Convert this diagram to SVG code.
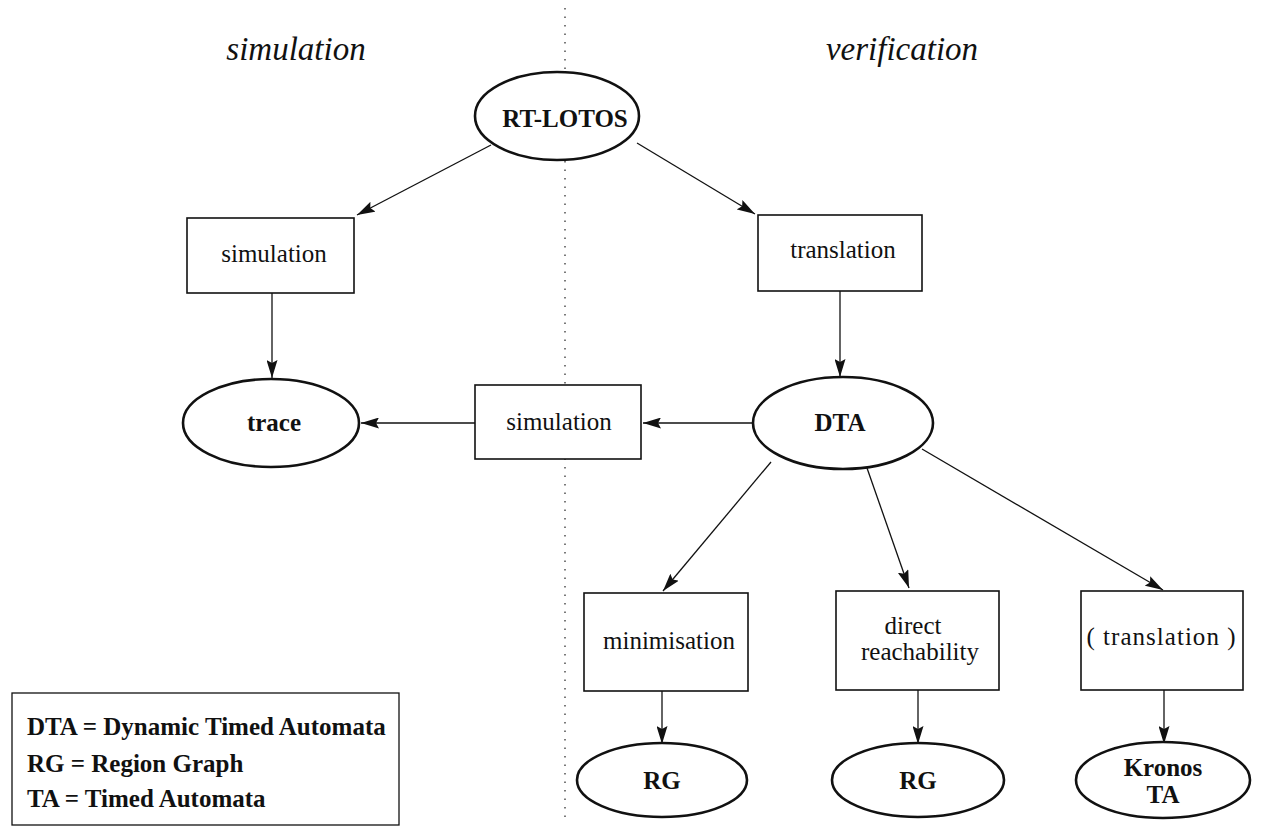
<svg xmlns="http://www.w3.org/2000/svg" width="1261" height="827" viewBox="0 0 1261 827">
  <style>
    .title { font-family: "Liberation Serif", "Times New Roman", serif; font-style: italic; font-size: 33px; fill: #111; text-anchor: middle; }
    .elabel { font-family: "Liberation Serif", "Times New Roman", serif; font-weight: bold; font-size: 25px; fill: #111; text-anchor: middle; }
    .blabel { font-family: "Liberation Serif", "Times New Roman", serif; font-size: 25px; fill: #111; text-anchor: middle; }
    .legend { font-family: "Liberation Serif", "Times New Roman", serif; font-weight: bold; font-size: 25px; fill: #111; }
    .ell { fill: #fff; stroke: #111; stroke-width: 2.6; }
    .box { fill: #fff; stroke: #111; stroke-width: 1.6; }
    .edge { fill: none; stroke: #111; stroke-width: 1.3; marker-end: url(#arrow); }
    .divider { stroke: #333; stroke-width: 1.3; stroke-dasharray: 1.5 7; }
  </style>
  <defs>
    <marker id="arrow" viewBox="0 0 18 11" refX="18" refY="5.5" markerWidth="18" markerHeight="11" markerUnits="userSpaceOnUse" orient="auto">
      <path d="M0,0 L18,5.5 L0,11 L3,5.5 Z" fill="#111"/>
    </marker>
  </defs>
  <rect width="1261" height="827" fill="#fff"/>

  <!-- dotted separator between the simulation and verification halves -->
  <line class="divider" x1="565" y1="8" x2="565" y2="822"/>

  <!-- column headings -->
  <text class="title" x="296" y="60">simulation</text>
  <text class="title" x="902" y="60">verification</text>

  <!-- connectors -->
  <g id="connectors">
    <line class="edge" x1="491" y1="145" x2="357" y2="215"/>
    <line class="edge" x1="637" y1="143" x2="755" y2="214"/>
    <line class="edge" x1="272" y1="293" x2="272" y2="378"/>
    <line class="edge" x1="840" y1="291" x2="840" y2="377"/>
    <line class="edge" x1="753" y1="423" x2="643" y2="423"/>
    <line class="edge" x1="475" y1="423" x2="361" y2="423"/>
    <line class="edge" x1="771" y1="462" x2="663" y2="591"/>
    <line class="edge" x1="867" y1="468" x2="909" y2="588"/>
    <line class="edge" x1="922" y1="449" x2="1163" y2="590"/>
    <line class="edge" x1="662" y1="690" x2="662" y2="744"/>
    <line class="edge" x1="918" y1="690" x2="918" y2="744"/>
    <line class="edge" x1="1164" y1="690" x2="1164" y2="744"/>
  </g>

  <!-- nodes -->
  <g id="rt-lotos">
    <ellipse class="ell" cx="557" cy="116" rx="82" ry="44"/>
    <text class="elabel" x="565" y="127">RT-LOTOS</text>
  </g>
  <g id="simulation-left">
    <rect class="box" x="187" y="218" width="167" height="75"/>
    <text class="blabel" x="274" y="262">simulation</text>
  </g>
  <g id="translation">
    <rect class="box" x="758" y="215" width="164" height="76"/>
    <text class="blabel" x="843" y="258">translation</text>
  </g>
  <g id="trace">
    <ellipse class="ell" cx="271" cy="423" rx="88" ry="44"/>
    <text class="elabel" x="274" y="431">trace</text>
  </g>
  <g id="simulation-mid">
    <rect class="box" x="475" y="385" width="166" height="74"/>
    <text class="blabel" x="559" y="430">simulation</text>
  </g>
  <g id="dta">
    <ellipse class="ell" cx="843" cy="423" rx="90" ry="46"/>
    <text class="elabel" x="840" y="431">DTA</text>
  </g>
  <g id="minimisation">
    <rect class="box" x="584" y="593" width="164" height="98"/>
    <text class="blabel" x="669" y="649">minimisation</text>
  </g>
  <g id="direct-reachability">
    <rect class="box" x="836" y="591" width="163" height="99"/>
    <text class="blabel" x="913" y="634">direct</text>
    <text class="blabel" x="920" y="660">reachability</text>
  </g>
  <g id="translation-ta">
    <rect class="box" x="1081" y="591" width="162" height="99"/>
    <text class="blabel" x="1161" y="645" textLength="149" lengthAdjust="spacing">( translation )</text>
  </g>
  <g id="rg-min">
    <ellipse class="ell" cx="662" cy="780" rx="85" ry="37"/>
    <text class="elabel" x="662" y="789">RG</text>
  </g>
  <g id="rg-direct">
    <ellipse class="ell" cx="918" cy="780" rx="86" ry="37"/>
    <text class="elabel" x="918" y="789">RG</text>
  </g>
  <g id="kronos-ta">
    <ellipse class="ell" cx="1163" cy="780" rx="87" ry="38"/>
    <text class="elabel" x="1163" y="776">Kronos</text>
    <text class="elabel" x="1163" y="803">TA</text>
  </g>

  <!-- abbreviation key -->
  <g id="legend">
    <rect x="12" y="693" width="387" height="132" fill="#fff" stroke="#111" stroke-width="1.3"/>
    <text class="legend" x="27" y="735">DTA = Dynamic Timed Automata</text>
    <text class="legend" x="27" y="772">RG = Region Graph</text>
    <text class="legend" x="27" y="807">TA = Timed Automata</text>
  </g>
</svg>
